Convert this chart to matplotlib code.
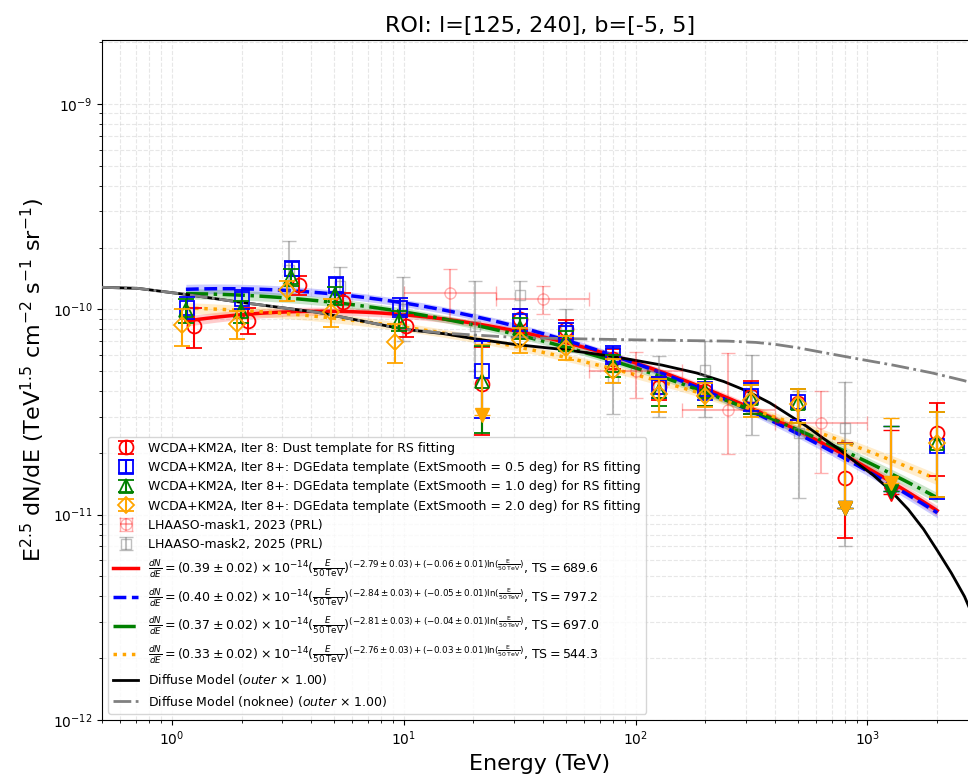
import numpy as np
import matplotlib
matplotlib.use('Agg')
import matplotlib.pyplot as plt

# --- datos (flujo en unidades de 1e-10) ---
energy = np.array([1.16, 2.0, 3.3, 5.1, 9.6, 21.8, 31.6, 50, 80, 126, 200, 316, 500, 800, 1260, 2000])

dust_flux = [0.83, 0.88, 1.31, 1.08, 0.83, 0.435, 0.90, 0.80, 0.57, 0.42, 0.40, 0.38, 0.35, 0.15, 0.126, 0.251]
dust_lo = [0.645, 0.755, 1.18, 0.97, 0.73, 0.245, 0.80, 0.72, 0.51, 0.36, 0.34, 0.31, 0.29, 0.077, 0.126, 0.155]
dust_hi = [1.02, 1.02, 1.45, 1.20, 0.94, 0.655, 1.00, 0.89, 0.64, 0.47, 0.46, 0.45, 0.41, 0.224, 0.257, 0.35]
dust_ul = [14]

sm05_flux = [1.02, 1.12, 1.58, 1.32, 1.02, 0.50, 0.875, 0.77, 0.60, 0.42, 0.41, 0.38, 0.353, 0.108, 0.13, 0.217]
sm05_lo = [0.90, 1.00, 1.45, 1.20, 0.92, 0.295, 0.78, 0.69, 0.54, 0.37, 0.36, 0.32, 0.29, 0.108, 0.13, 0.119]
sm05_hi = [1.15, 1.24, 1.72, 1.43, 1.13, 0.70, 1.00, 0.86, 0.66, 0.47, 0.46, 0.44, 0.41, 0.224, 0.27, 0.315]
sm05_ul = [13, 14]

sm10_flux = [0.99, 0.98, 1.43, 1.17, 0.88, 0.45, 0.81, 0.706, 0.533, 0.40, 0.40, 0.37, 0.35, 0.108, 0.13, 0.224]
sm10_lo = [0.86, 0.86, 1.30, 1.05, 0.78, 0.25, 0.72, 0.63, 0.47, 0.34, 0.34, 0.31, 0.28, 0.108, 0.13, 0.122]
sm10_hi = [1.12, 1.10, 1.57, 1.29, 0.98, 0.66, 0.91, 0.78, 0.60, 0.46, 0.46, 0.43, 0.41, 0.224, 0.27, 0.315]
sm10_ul = [13, 14]

sm20_flux = [0.84, 0.845, 1.24, 0.97, 0.69, 0.304, 0.706, 0.65, 0.50, 0.385, 0.38, 0.36, 0.345, 0.108, 0.142, 0.224]
sm20_lo = [0.66, 0.72, 1.10, 0.82, 0.545, 0.304, 0.61, 0.565, 0.436, 0.315, 0.333, 0.30, 0.28, 0.108, 0.142, 0.122]
sm20_hi = [1.00, 0.98, 1.38, 1.12, 0.85, 0.68, 0.81, 0.74, 0.57, 0.46, 0.44, 0.43, 0.41, 0.224, 0.295, 0.315]
sm20_ul = [5, 13, 14]

# LHAASO-mask1, 2023 (PRL)
mask1_e = [15.8, 39.8, 100, 251, 631]
mask1_elo = [10, 25, 63, 158, 398]
mask1_ehi = [25, 63, 158, 398, 1000]
mask1_flux = [1.20, 1.12, 0.50, 0.325, 0.278]
mask1_lo = [0.90, 0.95, 0.37, 0.197, 0.16]
mask1_hi = [1.57, 1.30, 0.62, 0.61, 0.40]

# LHAASO-mask2, 2025 (PRL)
mask2_e = [3.2, 5.3, 9.9, 20.4, 31.8, 50, 80, 126, 200, 317, 505, 800]
mask2_flux = [1.55, 1.30, 1.00, 0.83, 1.17, 0.78, 0.47, 0.43, 0.505, 0.38, 0.25, 0.263]
mask2_lo = [1.20, 1.05, 0.70, 0.50, 0.95, 0.62, 0.31, 0.30, 0.30, 0.244, 0.12, 0.07]
mask2_hi = [2.15, 1.60, 1.43, 1.37, 1.38, 1.00, 0.62, 0.59, 0.70, 0.60, 0.40, 0.445]

# parametros del ajuste log-parabola (leyenda)
fit_norm = [0.39, 0.40, 0.37, 0.33]
fit_norm_err = [0.02, 0.02, 0.02, 0.02]
fit_alpha = [-2.79, -2.84, -2.81, -2.76]
fit_alpha_err = [0.03, 0.03, 0.03, 0.03]
fit_beta = [-0.06, -0.05, -0.04, -0.03]
fit_beta_err = [0.01, 0.01, 0.01, 0.01]
fit_ts = [689.6, 797.2, 697.0, 544.3]

# modelo difuso
model_e = [0.5, 0.714, 1.16, 2, 4.25, 10, 15, 20, 30, 50, 68, 95, 130, 183, 240, 302, 380, 460, 550,
           646, 760, 890, 1050, 1250, 1500, 1745, 2000, 2300, 2620, 3000]
model_knee = [1.28, 1.265, 1.18, 1.08, 0.967, 0.80, 0.76, 0.72, 0.675, 0.635, 0.605, 0.57, 0.535, 0.49,
              0.445, 0.40, 0.35, 0.305, 0.268, 0.235, 0.207, 0.18, 0.157, 0.132, 0.106, 0.085, 0.067,
              0.052, 0.040, 0.028]
model_noknee_e = [0.5, 0.714, 1.16, 2, 4.25, 10, 15, 30, 50, 100, 250, 330, 400, 500, 650, 900, 1300, 1900, 2600, 3000]
model_noknee = [1.28, 1.265, 1.18, 1.08, 0.967, 0.80, 0.765, 0.73, 0.72, 0.71, 0.70, 0.69, 0.675, 0.65,
                0.615, 0.575, 0.534, 0.49, 0.45, 0.43]

labels = ['WCDA+KM2A, Iter 8: Dust template for RS fitting',
          'WCDA+KM2A, Iter 8+: DGEdata template (ExtSmooth = 0.5 deg) for RS fitting',
          'WCDA+KM2A, Iter 8+: DGEdata template (ExtSmooth = 1.0 deg) for RS fitting',
          'WCDA+KM2A, Iter 8+: DGEdata template (ExtSmooth = 2.0 deg) for RS fitting']

series = [(dust_flux, dust_lo, dust_hi, dust_ul),
          (sm05_flux, sm05_lo, sm05_hi, sm05_ul),
          (sm10_flux, sm10_lo, sm10_hi, sm10_ul),
          (sm20_flux, sm20_lo, sm20_hi, sm20_ul)]
colors = ['red', 'blue', 'green', 'orange']
markers = ['o', 's', '^', 'D']
msizes = [10, 9.5, 9.5, 8.5]
shifts = [1.07, 1.0, 0.99, 0.955]   # solo para los puntos de WCDA (E < 15 TeV)
linestyles = ['-', '--', '-.', ':']

fig = plt.figure(figsize=(9.68, 7.78), dpi=100)
ax = fig.add_axes([0.1054, 0.0746, 0.905, 0.874])

# curvas de ajuste con banda
e_fit = np.logspace(np.log10(1.15), np.log10(2000), 200)
lx = np.log(e_fit / 50.0)
fit_handles = []
for i in range(4):
    f = e_fit**2.5 * fit_norm[i] * 1e-14 * (e_fit / 50.0)**(fit_alpha[i] + fit_beta[i] * lx)
    rel = np.sqrt((0.7 * fit_norm_err[i] / fit_norm[i])**2 + (0.4 * fit_alpha_err[i] * lx)**2)
    ax.fill_between(e_fit, f * (1 - rel), f * (1 + rel), color=colors[i], alpha=0.2, lw=0, zorder=2)
    lab = (r'$\frac{dN}{dE} = (%.2f \pm %.2f) \times 10^{-14} (\frac{E}{50\,\rm TeV})^{(%.2f \pm %.2f) + (%.2f \pm %.2f) \ln(\frac{E}{50\,\rm TeV})}$, TS$ = %.1f$'
           % (fit_norm[i], fit_norm_err[i], fit_alpha[i], fit_alpha_err[i], fit_beta[i], fit_beta_err[i], fit_ts[i]))
    h, = ax.plot(e_fit, f, color=colors[i], ls=linestyles[i], lw=2.5, zorder=3, label=lab)
    fit_handles.append(h)

# modelos difusos
h_knee, = ax.plot(model_e, np.array(model_knee) * 1e-10, color='black', lw=2, zorder=3,
                  label=r'Diffuse Model ($outer$ $\times$ 1.00)')
h_noknee, = ax.plot(model_noknee_e, np.array(model_noknee) * 1e-10, color='gray', ls='-.', lw=2, zorder=3,
                    label=r'Diffuse Model (noknee) ($outer$ $\times$ 1.00)')

# LHAASO
m1 = np.array(mask1_flux) * 1e-10
h_m1 = ax.errorbar(mask1_e, m1,
                   xerr=[np.array(mask1_e) - np.array(mask1_elo), np.array(mask1_ehi) - np.array(mask1_e)],
                   yerr=[m1 - np.array(mask1_lo) * 1e-10, np.array(mask1_hi) * 1e-10 - m1],
                   fmt='o', color='red', alpha=0.3, mfc='none', ms=8, capsize=5, elinewidth=1.5,
                   zorder=4, label='LHAASO-mask1, 2023 (PRL)')
m2 = np.array(mask2_flux) * 1e-10
h_m2 = ax.errorbar(mask2_e, m2,
                   yerr=[m2 - np.array(mask2_lo) * 1e-10, np.array(mask2_hi) * 1e-10 - m2],
                   fmt='s', color='gray', alpha=0.5, mfc='none', ms=7, capsize=5, elinewidth=1.5,
                   zorder=4, label='LHAASO-mask2, 2025 (PRL)')

# puntos WCDA+KM2A
point_handles = []
for i, (fl, lo, hi, ul) in enumerate(series):
    fl = np.array(fl) * 1e-10
    lo = np.array(lo) * 1e-10
    hi = np.array(hi) * 1e-10
    e = np.where(energy < 15, energy * shifts[i], energy)
    ok = np.array([j not in ul for j in range(len(e))])
    h = ax.errorbar(e[ok], fl[ok], yerr=[fl[ok] - lo[ok], hi[ok] - fl[ok]], fmt=markers[i],
                    color=colors[i], mfc='none', ms=msizes[i], mew=1.3, capsize=6, elinewidth=1.5,
                    zorder=5 + 0.1 * i, label=labels[i])
    point_handles.append(h)
    ax.errorbar(e[~ok], fl[~ok], yerr=[np.zeros((~ok).sum()), hi[~ok] - fl[~ok]], fmt='v',
                color=colors[i], ms=10, capsize=6, elinewidth=1.5, zorder=5 + 0.1 * i)

ax.set_xscale('log')
ax.set_yscale('log')
ax.set_xlim(0.5, 3000)
ax.set_ylim(1e-12, 2.05e-9)
ax.grid(True, which='both', ls='--', alpha=0.3)
ax.set_xlabel('Energy (TeV)', fontsize=16)
ax.set_ylabel(r'E$^{2.5}$ dN/dE (TeV$^{1.5}$ cm$^{-2}$ s$^{-1}$ sr$^{-1}$)', fontsize=16)
ax.set_title('ROI: l=[125, 240], b=[-5, 5]', fontsize=16)

handles = point_handles + [h_m1, h_m2] + fit_handles + [h_knee, h_noknee]
ax.legend(handles=handles, loc='lower left', fontsize=9)

fig.savefig('out.png', dpi=100)
